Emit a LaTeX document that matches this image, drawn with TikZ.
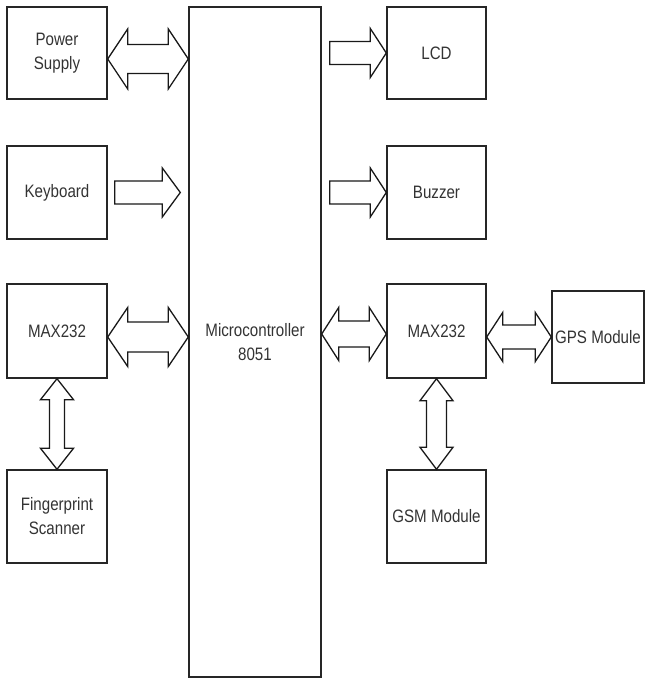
\documentclass[tikz,border=0pt]{standalone}
\usepackage{fontspec}
\setmainfont[FakeStretch=0.84]{Liberation Sans}
\usetikzlibrary{calc}
\tikzset{
  box/.style={draw=black!85, line width=1.4pt, inner sep=0pt, align=center,
    font=\fontsize{18}{24}\selectfont, text=black!80},
  barrow/.style={draw=black!90, line width=1.3pt, fill=white, line join=miter},
}
% double horizontal arrow: #1 left tip, #2 right tip, #3 head length, #4 head half, #5 shaft half
\newcommand\dharrow[5]{\draw[barrow] let \p1=(#1), \p2=(#2) in
  (\x1,\y1) -- (\x1+#3,\y1+#4) -- (\x1+#3,\y1+#5) -- (\x2-#3,\y1+#5) -- (\x2-#3,\y1+#4)
  -- (\x2,\y1) -- (\x2-#3,\y1-#4) -- (\x2-#3,\y1-#5) -- (\x1+#3,\y1-#5) -- (\x1+#3,\y1-#4) -- cycle;}
% double vertical arrow: #1 top tip, #2 bottom tip
\newcommand\dvarrow[5]{\draw[barrow] let \p1=(#1), \p2=(#2) in
  (\x1,\y1) -- (\x1+#4,\y1-#3) -- (\x1+#5,\y1-#3) -- (\x1+#5,\y2+#3) -- (\x1+#4,\y2+#3)
  -- (\x1,\y2) -- (\x1-#4,\y2+#3) -- (\x1-#5,\y2+#3) -- (\x1-#5,\y1-#3) -- (\x1-#4,\y1-#3) -- cycle;}
% single right arrow: #1 tail, #2 tip
\newcommand\rarrow[5]{\draw[barrow] let \p1=(#1), \p2=(#2) in
  (\x1,\y1+#5) -- (\x2-#3,\y1+#5) -- (\x2-#3,\y1+#4) -- (\x2,\y1) -- (\x2-#3,\y1-#4)
  -- (\x2-#3,\y1-#5) -- (\x1,\y1-#5) -- cycle;}
\begin{document}
\begin{tikzpicture}[x=1pt,y=1pt]
\useasboundingbox (0,0) rectangle (646,680);
% blocks
\node[box, minimum width=100pt, minimum height=92pt] (ps) at (57,627) {Power\\Supply};
\node[box, minimum width=100pt, minimum height=93pt] (kb) at (57,487.5) {Keyboard};
\node[box, minimum width=100pt, minimum height=94pt] (m1) at (57,349) {MAX232};
\node[box, minimum width=100pt, minimum height=93pt] (fp) at (57,163.5) {Fingerprint\\Scanner};
\node[box, minimum width=132pt, minimum height=670pt] (mc) at (255,338) {Microcontroller\\8051};
\node[box, minimum width=99pt, minimum height=92pt] (lcd) at (436.5,627) {LCD};
\node[box, minimum width=99pt, minimum height=93pt] (bz) at (436.5,487.5) {Buzzer};
\node[box, minimum width=99pt, minimum height=94pt] (m2) at (436.5,349) {MAX232};
\node[box, minimum width=92pt, minimum height=92pt] (gps) at (598,343) {GPS Module};
\node[box, minimum width=99pt, minimum height=93pt] (gsm) at (436.5,163.5) {GSM Module};
% arrow end points
\coordinate (a1l) at ($(ps.east)+(0,-6)$);
\coordinate (a1r) at (mc.west |- a1l);
\coordinate (a2t) at ($(kb.east)+(7,0)$);
\coordinate (a2h) at ($(mc.west |- kb.east)+(-8,0)$);
\coordinate (a3l) at ($(m1.east)+(0,-6)$);
\coordinate (a3r) at (mc.west |- a3l);
\coordinate (a5t) at ($(mc.east |- lcd.west)+(8,0)$);
\coordinate (a6t) at ($(mc.east |- bz.west)+(8,0)$);
\coordinate (a7r) at ($(m2.west)+(0,-3)$);
\coordinate (a7l) at (mc.east |- a7r);
\coordinate (a8l) at (m2.east |- gps.west);
% arrows
\dharrow{a1l}{a1r}{20}{30}{14.5}
\rarrow{a2t}{a2h}{18}{24.5}{11.5}
\dharrow{a3l}{a3r}{20}{29.5}{15}
\dvarrow{m1.south}{fp.north}{21}{16.5}{7.5}
\rarrow{a5t}{lcd.west}{16}{24.5}{11.5}
\rarrow{a6t}{bz.west}{16}{24.5}{11.5}
\dharrow{a7l}{a7r}{17}{26.5}{13}
\dharrow{a8l}{gps.west}{16}{24.5}{12}
\dvarrow{m2.south}{gsm.north}{22}{16.5}{10}
\end{tikzpicture}
\end{document}
